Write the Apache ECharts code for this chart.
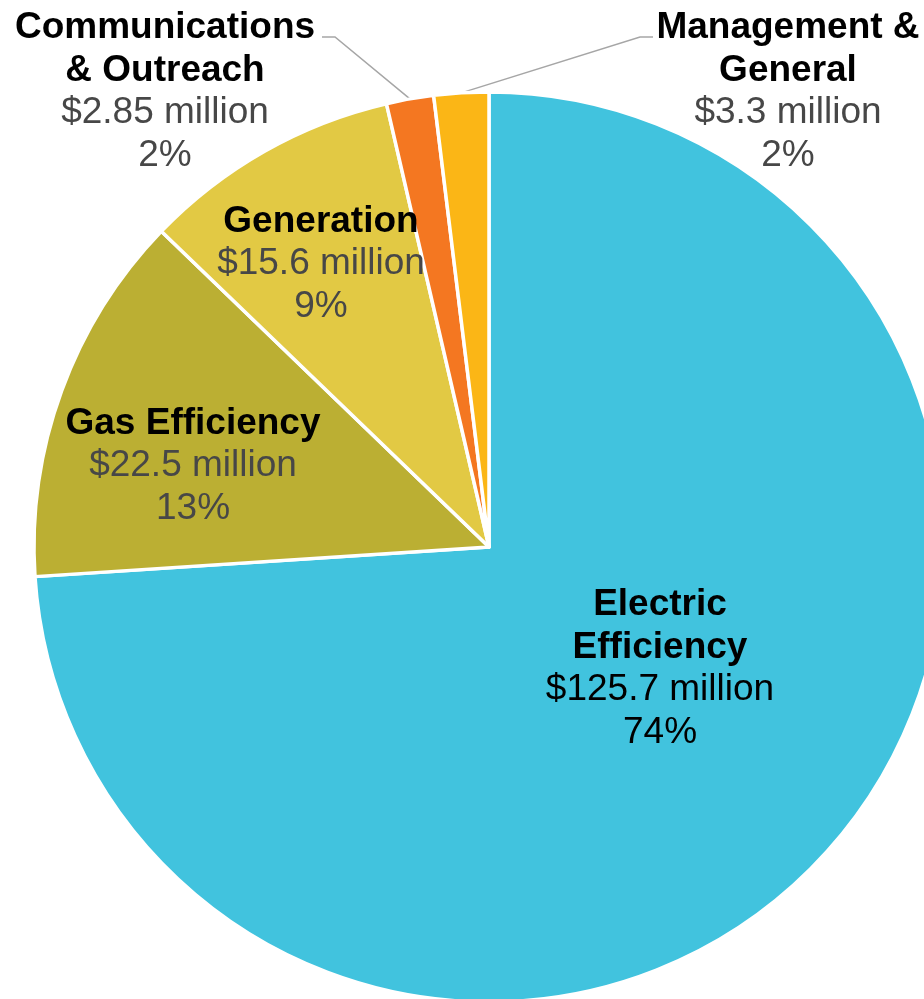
<!DOCTYPE html>
<html>
<head>
<meta charset="utf-8">
<script src="https://cdn.jsdelivr.net/npm/echarts@6/dist/echarts.min.js"></script>
<style>
  html, body { margin: 0; padding: 0; background: #ffffff; }
  #chart { width: 924px; height: 999px; }
</style>
</head>
<body>
<div id="chart"></div>
<script>
// Budget categories and amounts (millions of dollars), clockwise from 12 o'clock
const categories = ['Electric\nEfficiency', 'Gas Efficiency', 'Generation', 'Communications\n& Outreach', 'Management &\nGeneral'];
const amounts = [125.7, 22.5, 15.6, 2.85, 3.3];
const sliceColors = ['#41C3DE', '#BBAF33', '#E2C944', '#F47721', '#FBB616'];

// Label anchor (centre of text block) for each slice
const labelSpots = [
  { x: 660, y: 667 },
  { x: 193, y: 464 },
  { x: 321, y: 262 },
  { x: 165, y: 90 },
  { x: 788, y: 90 }
];
// Leader-line bend/end for the narrow slices (index -> [bend, end])
const leaderEnds = {
  3: [[335, 37], [322, 37]],
  4: [[640, 37], [653, 37]]
};

const data = categories.map((name, i) => {
  const outside = leaderEnds[i] !== undefined;
  return {
    name: name,
    value: amounts[i],
    itemStyle: { color: sliceColors[i] },
    label: {
      position: outside ? 'outside' : 'inside',
      rich: {
        n: { fontFamily: 'Liberation Sans, Arial, sans-serif', fontWeight: 'bold', fontSize: 37, lineHeight: 42.5, color: '#000000', align: 'center' },
        v: { fontFamily: 'Liberation Sans, Arial, sans-serif', fontSize: 37, lineHeight: 42.5, color: i === 0 ? '#000000' : '#474747', align: 'center' }
      }
    },
    labelLine: { show: outside, lineStyle: { color: '#A6A6A6', width: 1.5 }, length: 20, length2: 20 }
  };
});

const chart = echarts.init(document.getElementById('chart'), null, { renderer: 'canvas' });
chart.setOption({
  animation: false,
  series: [{
    type: 'pie',
    center: [489, 547],
    radius: [0, 455],
    startAngle: 90,
    clockwise: true,
    avoidLabelOverlap: false,
    silent: true,
    itemStyle: { borderColor: '#ffffff', borderWidth: 3.5 },
    emphasis: { disabled: true },
    label: {
      show: true,
      formatter: function (p) {
        const nameLines = p.name.split('\n').map(s => '{n|' + s + '}').join('\n');
        return nameLines + '\n{v|$' + p.value + ' million}\n{v|' + Math.round(p.percent) + '%}';
      }
    },
    labelLayout: function (params) {
      const i = params.dataIndex;
      const spot = labelSpots[i];
      const out = { x: spot.x, y: spot.y + 2, align: 'center', verticalAlign: 'middle' };
      if (leaderEnds[i] && params.labelLinePoints) {
        out.labelLinePoints = [params.labelLinePoints[0], leaderEnds[i][0], leaderEnds[i][1]];
      }
      return out;
    },
    data: data
  }]
});
</script>
</body>
</html>
